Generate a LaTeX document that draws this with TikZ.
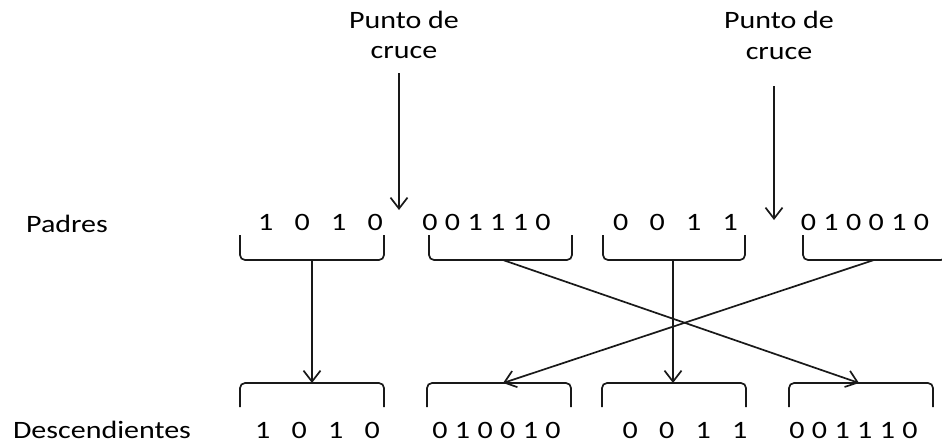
\documentclass[tikz,border=0pt]{standalone}
\usepackage{fontspec}
\setmainfont[FakeStretch=1.2]{Carlito}
\usetikzlibrary{arrows.meta}
% gaps between the bits of a chromosome
\newcommand\gapS{\hspace{7.4pt}}
\newcommand\gapL{\hspace{21.3pt}}
\begin{document}
\begin{tikzpicture}[x=1pt,y=-1pt,
  ln/.style={line width=1.7pt, draw=black!90},
  arr/.style={ln, -{Straight Barb[length=11pt,width=17pt,line width=1.7pt]}},
  lbl/.style={font=\fontsize{25}{30}\selectfont, anchor=base, inner sep=0pt, text=black},
  upbrak/.style={ln, rounded corners=5pt},
]
\useasboundingbox (0,0) rectangle (942,445);

% row labels
\node[lbl] (padres) at (67,232) {Padres};
\node[lbl] (desc) at (102,438) {Descendientes};

% crossover points
\node[lbl] (pc1a) at (404,28) {Punto de};
\node[lbl] (pc1b) at (404,58) {cruce};
\node[lbl] (pc2a) at (779,28) {Punto de};
\node[lbl] (pc2b) at (779,59) {cruce};
\coordinate (x1s) at (399,73);
\coordinate (x1e) at (399,210);
\coordinate (x2s) at (774,86);
\coordinate (x2e) at (774,220);
\draw[arr] (x1s) -- (x1e);
\draw[arr] (x2s) -- (x2e);

% parent bit strings
\node[lbl] (t1) at (320.5,230) {1\gapL0\gapL1\gapL0};
\node[lbl] (t2) at (486.5,230) {0\gapS0\gapS1\gapS1\gapS1\gapS0};
\node[lbl] (t3) at (675.5,230) {0\gapL0\gapL1\gapL1};
\node[lbl] (t4) at (865,230) {0\gapS1\gapS0\gapS0\gapS1\gapS0};

% offspring bit strings
\node[lbl] (b1) at (317.5,438) {1\gapL0\gapL1\gapL0};
\node[lbl] (b2) at (496.5,438) {0\gapS1\gapS0\gapS0\gapS1\gapS0};
\node[lbl] (b3) at (685,438) {0\gapL0\gapL1\gapL1};
\node[lbl] (b4) at (853.5,438) {0\gapS0\gapS1\gapS1\gapS1\gapS0};

% brackets under the parents
\draw[upbrak] (240,235) -- (240,260) -- (384,260) -- (384,235);
\draw[upbrak] (429,235) -- (429,260) -- (572,260) -- (572,235);
\draw[upbrak] (603,235) -- (603,260) -- (745,260) -- (745,235);
\draw[upbrak] (803,235) -- (803,260) -- (946,260) -- (946,235);

% brackets over the offspring
\draw[upbrak] (240,407) -- (240,383) -- (384,383) -- (384,407);
\draw[upbrak] (427,407) -- (427,383) -- (571,383) -- (571,407);
\draw[upbrak] (602,407) -- (602,383) -- (746,383) -- (746,407);
\draw[upbrak] (789,407) -- (789,383) -- (933,383) -- (933,407);

% segment sources and destinations
\coordinate (p1) at (312,260);
\coordinate (p2) at (503,260);
\coordinate (p3) at (673,260);
\coordinate (p4) at (874,260);
\coordinate (d1) at (312,383);
\coordinate (d2) at (503,383);
\coordinate (d3) at (673,383);
\coordinate (d4) at (859,383);

\draw[arr] (p1) -- (d1);
\draw[arr] (p3) -- (d3);
\draw[arr] (p2) -- (d4);
\draw[arr] (p4) -- (d2);
\end{tikzpicture}
\end{document}
